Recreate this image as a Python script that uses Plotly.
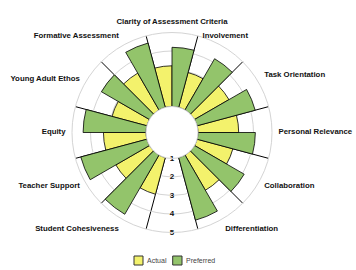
import plotly.graph_objects as go

# ---------------- data ----------------
categories = ["Clarity of Assessment Criteria", "Involvement", "Task Orientation",
              "Personal Relevance", "Collaboration", "Differentiation",
              "Student Cohesiveness", "Teacher Support", "Equity",
              "Young Adult Ethos", "Formative Assessment"]
actual = [3.2, 2.95, 3.15, 3.2, 3.0, 3.2, 3.05, 3.1, 3.3, 2.95, 3.3]
preferred = [4.2, 4.2, 4.25, 4.1, 4.1, 4.5, 4.7, 4.7, 4.4, 4.0, 4.6]
scale_ticks = [1, 2, 3, 4, 5]
series_names = ["Actual", "Preferred"]

# ---------------- styling ----------------
YELLOW = "#F3F26C"
GREEN = "#93C46B"
GRID = "#D4D4D4"
FONT = "Liberation Sans, Arial, sans-serif"

n_slots = 12          # 11 categories + one empty slot at the bottom
gap_slot = 6
slot_deg = 360 / n_slots
slots = [i if i < gap_slot else i + 1 for i in range(len(categories))]
theta = [s * slot_deg for s in slots]
boundaries = [(k + 0.5) * slot_deg for k in range(n_slots)]
r0 = scale_ticks[0]
label_r = 5.35
outer_label_max = 6.0
label_pos = ["top center", "top center", "top right", "middle right", "middle right",
             "bottom right", "bottom left", "middle left", "middle left",
             "middle left", "top left"]

W, H = 356, 270
cx, cy, R = 172, 132.5, 100
hole_px = 26
px_per_unit = (R - hole_px) / (scale_ticks[-1] - scale_ticks[0])
R2 = hole_px + (outer_label_max - scale_ticks[0]) * px_per_unit

fig = go.Figure()
fig.add_trace(go.Barpolar(
    name=series_names[0], theta=theta, base=r0, r=[v - r0 for v in actual],
    offset=-slot_deg / 2, width=slot_deg / 2,
    marker=dict(color=YELLOW, line=dict(color="black", width=0.8)),
))
fig.add_trace(go.Barpolar(
    name=series_names[1], theta=theta, base=r0, r=[v - r0 for v in preferred],
    offset=0, width=slot_deg / 2,
    marker=dict(color=GREEN, line=dict(color="black", width=0.8)),
))
# radial scale labels in the gap
fig.add_trace(go.Scatterpolar(
    theta=[gap_slot * slot_deg] * len(scale_ticks), r=scale_ticks,
    text=[str(t) for t in scale_ticks], mode="text", textposition="middle center",
    cliponaxis=False, hoverinfo="skip",
    textfont=dict(family=FONT, size=8, color="#111111", weight="bold"),
))
# category labels on an overlaid polar with the same centre and scale
fig.add_trace(go.Scatterpolar(
    subplot="polar2",
    theta=theta, r=[label_r] * len(categories), text=categories, mode="text",
    textposition=label_pos, cliponaxis=False, hoverinfo="skip",
    textfont=dict(family=FONT, size=7.8, color="#111111", weight="bold"),
))


def dom(rad):
    return dict(x=[(cx - rad) / W, (cx + rad) / W], y=[(H - cy - rad) / H, (H - cy + rad) / H])


common_ang = dict(type="linear", rotation=90, direction="clockwise")
fig.update_layout(
    width=W, height=H, margin=dict(l=0, r=0, t=0, b=0),
    paper_bgcolor="white", showlegend=False,
    polar=dict(
        domain=dom(R), hole=hole_px / R, bgcolor="white",
        radialaxis=dict(range=[scale_ticks[0], scale_ticks[-1]], tickvals=scale_ticks[1:],
                        showticklabels=False, ticks="", showline=False,
                        gridcolor=GRID, gridwidth=1),
        angularaxis=dict(**common_ang, tickmode="array", tickvals=boundaries,
                         showticklabels=False, ticks="", gridcolor="black", gridwidth=1.2,
                         showline=True, linecolor=GRID, linewidth=1),
    ),
    polar2=dict(
        domain=dom(R2), hole=hole_px / R2, bgcolor="rgba(0,0,0,0)",
        radialaxis=dict(range=[scale_ticks[0], outer_label_max], visible=False,
                        showgrid=False),
        angularaxis=dict(**common_ang, visible=False, showgrid=False),
    ),
)

# legend built from the series names/colours
sw = [(134, 143), (172.7, 182)]
colors = [YELLOW, GREEN]
for (x0, x1), c, name in zip(sw, colors, series_names):
    fig.add_shape(type="rect", xref="paper", yref="paper",
                  x0=x0 / W, x1=x1 / W, y0=(H - 265) / H, y1=(H - 256) / H,
                  fillcolor=c, line=dict(color="#333333", width=1))
    fig.add_annotation(xref="paper", yref="paper", x=(x1 + 1.5) / W, y=(H - 260.5) / H,
                       xanchor="left", yanchor="middle", showarrow=False, text=name,
                       font=dict(family=FONT, size=7, color="#444444"))

fig.write_html("out.html")
